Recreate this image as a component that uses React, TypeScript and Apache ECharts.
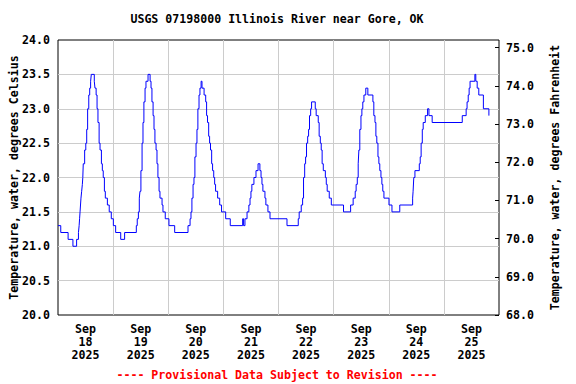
import React, { useEffect, useRef } from "react";
import * as echarts from "echarts";

const TITLE = "USGS 07198000 Illinois River near Gore, OK";
const FOOTER = "---- Provisional Data Subject to Revision ----";
const LEFT_NAME = "Temperature, water, degrees Celsius";
const RIGHT_NAME = "Temperature, water, degrees Fahrenheit";

const dayLabels = ["Sep\n18\n2025", "Sep\n19\n2025", "Sep\n20\n2025", "Sep\n21\n2025", "Sep\n22\n2025", "Sep\n23\n2025", "Sep\n24\n2025", "Sep\n25\n2025"];

// hours since Sep 18 00:00 at which the reading changes
const hours = [
  0, 1.2, 4.4, 6.5, 8.1, 8.9, 9.2, 9.4, 9.6, 9.8, 10.0, 10.3, 10.6, 10.8, 11.0, 11.6, 12.1, 12.5, 12.9, 13.4, 13.8, 14.2, 14.5,
  15.8, 16.1, 16.6, 17.0, 17.4, 17.9, 18.3, 18.9, 19.3, 19.7, 20.2, 20.6, 21.5, 22.3, 23.2, 24.1, 25.1, 27.3, 29.0,
  34.1, 34.5, 35.0, 35.4, 35.7, 36.1, 36.6, 37.0, 37.4, 37.9, 38.3, 39.2, 40.1, 40.5, 40.9, 41.4, 41.8, 42.2, 42.7, 43.1,
  43.5, 44.0, 44.4, 45.3, 45.7, 46.7, 48.3, 50.8,
  56.6, 57.5, 57.9, 58.3, 58.8, 59.2, 59.6, 60.1, 60.5, 60.9, 61.4, 61.8, 62.3, 62.7, 63.6, 64.3, 64.7, 65.1, 65.6, 66.0,
  66.4, 66.9, 67.3, 67.8, 68.2, 68.6, 69.5, 70.4, 71.2, 73.0, 75.0,
  80.4, 80.8, 81.4, 82.3, 83.1, 83.6, 84.0, 84.4, 85.3, 86.2, 87.1, 87.9, 88.4, 88.8, 89.2, 90.1, 90.5, 91.4, 92.3, 99.7,
  104.6, 105.0, 105.9, 106.5, 106.9, 107.4, 107.8, 108.2, 108.7, 109.1, 109.5, 110.0, 110.4, 112.0, 112.4, 113.3, 113.7,
  114.2, 114.6, 115.0, 115.5, 116.4, 116.8, 117.2, 118.1, 119.0, 124.3, 127.4,
  128.5, 129.4, 129.8, 130.3, 130.7, 131.0, 131.4, 131.9, 132.3, 132.7, 133.2, 134.0, 134.9, 137.1, 137.5, 138.0, 138.4,
  138.8, 139.3, 139.7, 140.1, 140.6, 141.0, 141.4, 141.9, 144.1, 145.4, 148.8,
  154.4, 154.6, 154.9, 155.4, 157.3, 157.7, 158.1, 158.6, 159.0, 159.9, 160.9, 161.5, 162.9,
  176.0, 177.7, 178.1, 178.6, 179.0, 179.4, 181.5, 181.9, 182.5, 183.2, 185.2, 187.6, 187.9,
];

const tempC = [
  21.3, 21.2, 21.1, 21.0, 21.1, 21.2, 21.3, 21.4, 21.5, 21.6, 21.7, 21.8, 21.9, 22.0, 22.2, 22.4, 22.5, 22.7, 23.0, 23.2, 23.3, 23.4, 23.5,
  23.4, 23.3, 23.2, 23.0, 22.8, 22.5, 22.4, 22.2, 22.1, 22.0, 21.8, 21.7, 21.6, 21.5, 21.4, 21.3, 21.2, 21.1, 21.2,
  21.3, 21.4, 21.5, 21.7, 21.8, 22.1, 22.5, 22.8, 23.1, 23.3, 23.4, 23.5, 23.4, 23.3, 23.1, 22.9, 22.7, 22.5, 22.4, 22.2,
  22.0, 21.8, 21.7, 21.6, 21.5, 21.4, 21.3, 21.2,
  21.3, 21.4, 21.5, 21.7, 21.9, 22.0, 22.3, 22.5, 22.7, 23.0, 23.2, 23.3, 23.4, 23.3, 23.2, 23.1, 22.9, 22.8, 22.6, 22.5,
  22.4, 22.2, 22.1, 22.0, 21.9, 21.8, 21.7, 21.6, 21.5, 21.4, 21.3,
  21.4, 21.3, 21.4, 21.5, 21.6, 21.7, 21.8, 21.9, 22.0, 22.1, 22.2, 22.1, 22.0, 21.9, 21.8, 21.7, 21.6, 21.5, 21.4, 21.3,
  21.4, 21.5, 21.6, 21.7, 22.0, 22.2, 22.3, 22.5, 22.6, 22.7, 22.9, 23.0, 23.1, 23.0, 22.9, 22.8, 22.6,
  22.5, 22.4, 22.2, 22.1, 22.0, 21.9, 21.8, 21.7, 21.6, 21.5, 21.6,
  21.7, 21.8, 21.9, 22.0, 22.2, 22.4, 22.7, 22.9, 23.0, 23.1, 23.2, 23.3, 23.2, 23.1, 22.9, 22.8, 22.6,
  22.5, 22.3, 22.2, 22.1, 22.0, 21.9, 21.8, 21.7, 21.6, 21.5, 21.6,
  21.7, 21.8, 22.0, 22.1, 22.2, 22.3, 22.5, 22.7, 22.8, 22.9, 23.0, 22.9, 22.8,
  22.9, 23.0, 23.1, 23.2, 23.3, 23.4, 23.5, 23.4, 23.3, 23.2, 23.0, 22.9, 22.9,
];

const FONT = "'DejaVu Sans Mono', monospace";
const FS = 11.6;

export default function App() {
  const ref = useRef<HTMLDivElement>(null);
  useEffect(() => {
    if (!ref.current) return;
    const chart = echarts.init(ref.current, null, { renderer: "svg" });
    const textStyle = { fontFamily: FONT, fontSize: FS, fontWeight: "bold" as const, color: "#000" };
    chart.setOption({
      animation: false,
      backgroundColor: "#fff",
      grid: {
        left: 58, right: 77, top: 40, bottom: 69,
        containLabel: false, outerBoundsMode: "none",
        show: true, borderColor: "#000", borderWidth: 1, backgroundColor: "transparent",
      },
      graphic: [
        { type: "text", x: 277, y: 19, style: { text: TITLE, fill: "#000", align: "center", verticalAlign: "middle", font: `bold ${FS}px ${FONT}` } },
        { type: "text", x: 277, y: 375, style: { text: FOOTER, fill: "#ff0000", align: "center", verticalAlign: "middle", font: `bold ${FS}px ${FONT}` } },
      ],
      xAxis: [
        {
          type: "category",
          data: dayLabels,
          boundaryGap: true,
          position: "bottom",
          axisLine: { show: false },
          axisTick: { show: false },
          axisLabel: { ...textStyle, interval: 0, lineHeight: 13, margin: 7 },
          splitLine: { show: true, showMinLine: false, showMaxLine: false, lineStyle: { color: "#cccccc", width: 1 } },
        },
        { type: "value", min: 0, max: 192, show: false },
      ],
      yAxis: [
        {
          type: "value",
          min: 20,
          max: 24,
          interval: 0.5,
          position: "left",
          name: LEFT_NAME,
          nameLocation: "middle",
          nameRotate: 90,
          nameGap: 38,
          nameMoveOverlap: false,
          nameTextStyle: textStyle,
          axisLine: { show: false },
          axisTick: { show: false },
          axisLabel: { ...textStyle, margin: 8, formatter: (v: number) => v.toFixed(1) },
          splitLine: { show: true, showMinLine: false, showMaxLine: false, lineStyle: { color: "#cccccc", width: 1 } },
        },
        {
          type: "value",
          min: 68,
          max: 75.2,
          interval: 1,
          position: "right",
          name: RIGHT_NAME,
          nameLocation: "middle",
          nameRotate: 90,
          nameGap: 50,
          nameMoveOverlap: false,
          nameTextStyle: textStyle,
          axisLine: { show: false },
          axisTick: { show: true, inside: true, length: 4, lineStyle: { color: "#000" } },
          axisLabel: {
            ...textStyle,
            margin: 7,
            showMaxLabel: false,
            formatter: (v: number) => (Math.abs(v - Math.round(v)) < 1e-6 ? v.toFixed(1) : ""),
          },
          splitLine: { show: false },
        },
      ],
      series: [
        {
          type: "line",
          xAxisIndex: 1,
          yAxisIndex: 0,
          step: "end",
          showSymbol: false,
          symbol: "none",
          lineStyle: { color: "#0000ff", width: 1 },
          data: hours.map((h, i) => [h, tempC[i]]),
          z: 3,
        },
      ],
    });
    return () => chart.dispose();
  }, []);
  return <div ref={ref} style={{ position: "fixed", left: 0, top: 0, width: 576, height: 384 }} />;
}
